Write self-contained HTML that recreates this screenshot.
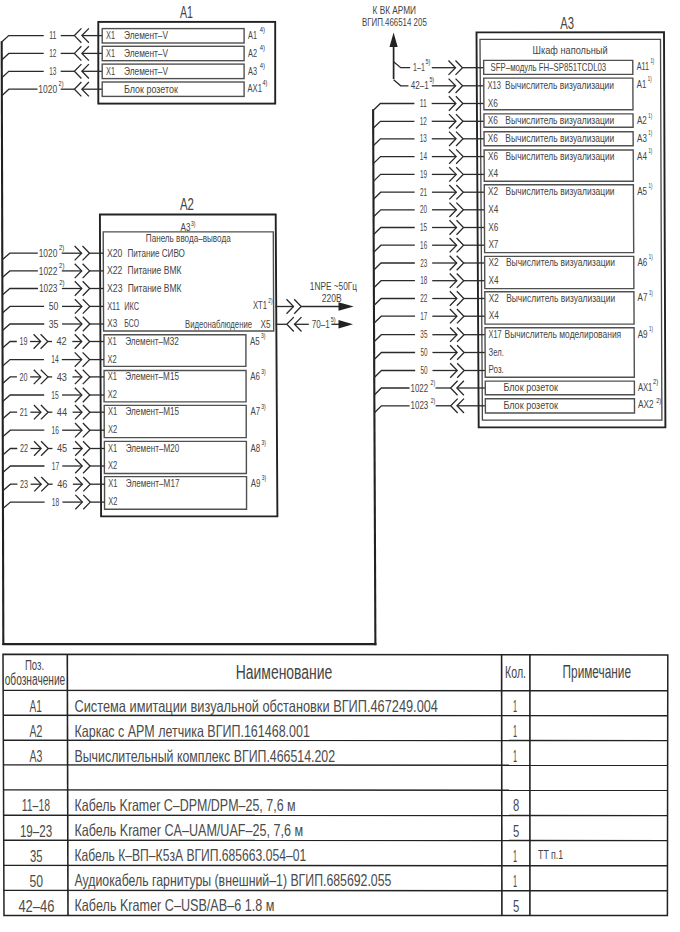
<!DOCTYPE html>
<html><head><meta charset="utf-8"><style>
html,body{margin:0;padding:0;background:#fff;}
body{width:680px;height:932px;overflow:hidden;}
svg{display:block;}
text{font-family:"Liberation Sans",sans-serif;}
</style></head><body>
<svg width="680" height="932" viewBox="0 0 680 932">
<rect x="0" y="0" width="680" height="932" fill="#fff"/>
<line x1="1.7" y1="41.3" x2="3.33" y2="645" stroke="#222222" stroke-width="2.1"/>
<line x1="2.33" y1="644.1" x2="376.4" y2="644.1" stroke="#222222" stroke-width="2.1"/>
<line x1="373.1" y1="109.3" x2="375.4" y2="645.3" stroke="#222222" stroke-width="2.1"/>
<text x="180" y="18.3" font-size="16.5" fill="#444444" textLength="12.98" lengthAdjust="spacingAndGlyphs">A1</text>
<rect x="98.3" y="21.9" width="176.9" height="81.7" fill="none" stroke="#222222" stroke-width="1.9"/>
<polyline points="1.7,42.1 8.7,35.6 43.7,35.6" fill="none" stroke="#2a2a2a" stroke-width="1.3" stroke-linejoin="miter"/>
<text x="49.2" y="39.2" font-size="11" fill="#444444" textLength="7.19" lengthAdjust="spacingAndGlyphs">11</text>
<line x1="60.7" y1="35.6" x2="74.4" y2="35.6" stroke="#2a2a2a" stroke-width="1.3"/>
<polyline points="81.4,28.4 74.4,35.6 81.4,42.8" fill="none" stroke="#2a2a2a" stroke-width="1.3" stroke-linejoin="miter"/>
<polyline points="88.9,28.4 81.9,35.6 88.9,42.8" fill="none" stroke="#2a2a2a" stroke-width="1.3" stroke-linejoin="miter"/>
<line x1="81.9" y1="35.6" x2="102.2" y2="35.6" stroke="#2a2a2a" stroke-width="1.3"/>
<rect x="102.2" y="28.6" width="141.9" height="14.4" fill="none" stroke="#505050" stroke-width="1.4"/>
<text x="106" y="39.2" font-size="11" fill="#444444" textLength="8.99" lengthAdjust="spacingAndGlyphs">X1</text>
<text x="124" y="39.2" font-size="11" fill="#444444" textLength="44.02" lengthAdjust="spacingAndGlyphs">Элемент–V</text>
<text x="248" y="38.8" font-size="11" fill="#444444" textLength="8.99" lengthAdjust="spacingAndGlyphs">A1</text>
<text x="259.8" y="32.02" font-size="8" fill="#2e2e2e" textLength="5.2" lengthAdjust="spacingAndGlyphs">4)</text>
<polyline points="1.75,59.9 8.75,53.4 43.7,53.4" fill="none" stroke="#2a2a2a" stroke-width="1.3" stroke-linejoin="miter"/>
<text x="49.2" y="57" font-size="11" fill="#444444" textLength="7.22" lengthAdjust="spacingAndGlyphs">12</text>
<line x1="60.7" y1="53.4" x2="74.4" y2="53.4" stroke="#2a2a2a" stroke-width="1.3"/>
<polyline points="81.4,46.2 74.4,53.4 81.4,60.6" fill="none" stroke="#2a2a2a" stroke-width="1.3" stroke-linejoin="miter"/>
<polyline points="88.9,46.2 81.9,53.4 88.9,60.6" fill="none" stroke="#2a2a2a" stroke-width="1.3" stroke-linejoin="miter"/>
<line x1="81.9" y1="53.4" x2="102.2" y2="53.4" stroke="#2a2a2a" stroke-width="1.3"/>
<rect x="102.2" y="46.3" width="141.9" height="14.4" fill="none" stroke="#505050" stroke-width="1.4"/>
<text x="106" y="57" font-size="11" fill="#444444" textLength="8.99" lengthAdjust="spacingAndGlyphs">X1</text>
<text x="124" y="57" font-size="11" fill="#444444" textLength="44.02" lengthAdjust="spacingAndGlyphs">Элемент–V</text>
<text x="248" y="56.6" font-size="11" fill="#444444" textLength="8.99" lengthAdjust="spacingAndGlyphs">A2</text>
<text x="259.8" y="49.82" font-size="8" fill="#2e2e2e" textLength="5.2" lengthAdjust="spacingAndGlyphs">4)</text>
<polyline points="1.8,77.8 8.8,71.3 43.7,71.3" fill="none" stroke="#2a2a2a" stroke-width="1.3" stroke-linejoin="miter"/>
<text x="49.2" y="74.9" font-size="11" fill="#444444" textLength="7.22" lengthAdjust="spacingAndGlyphs">13</text>
<line x1="60.7" y1="71.3" x2="74.4" y2="71.3" stroke="#2a2a2a" stroke-width="1.3"/>
<polyline points="81.4,64.1 74.4,71.3 81.4,78.5" fill="none" stroke="#2a2a2a" stroke-width="1.3" stroke-linejoin="miter"/>
<polyline points="88.9,64.1 81.9,71.3 88.9,78.5" fill="none" stroke="#2a2a2a" stroke-width="1.3" stroke-linejoin="miter"/>
<line x1="81.9" y1="71.3" x2="102.2" y2="71.3" stroke="#2a2a2a" stroke-width="1.3"/>
<rect x="102.2" y="64.1" width="141.9" height="14.5" fill="none" stroke="#505050" stroke-width="1.4"/>
<text x="106" y="74.9" font-size="11" fill="#444444" textLength="8.99" lengthAdjust="spacingAndGlyphs">X1</text>
<text x="124" y="74.9" font-size="11" fill="#444444" textLength="44.02" lengthAdjust="spacingAndGlyphs">Элемент–V</text>
<text x="248" y="74.5" font-size="11" fill="#444444" textLength="8.99" lengthAdjust="spacingAndGlyphs">A3</text>
<text x="259.8" y="67.72" font-size="8" fill="#2e2e2e" textLength="5.2" lengthAdjust="spacingAndGlyphs">4)</text>
<polyline points="1.84,95.7 8.84,89.2 37.5,89.2" fill="none" stroke="#2a2a2a" stroke-width="1.3" stroke-linejoin="miter"/>
<text x="38.3" y="92.8" font-size="11" fill="#444444" textLength="18.9" lengthAdjust="spacingAndGlyphs">1020</text>
<text x="58.6" y="85.92" font-size="8" fill="#2e2e2e" textLength="4.9" lengthAdjust="spacingAndGlyphs">2)</text>
<line x1="60.7" y1="89.2" x2="74.4" y2="89.2" stroke="#2a2a2a" stroke-width="1.3"/>
<polyline points="81.4,82 74.4,89.2 81.4,96.4" fill="none" stroke="#2a2a2a" stroke-width="1.3" stroke-linejoin="miter"/>
<polyline points="88.9,82 81.9,89.2 88.9,96.4" fill="none" stroke="#2a2a2a" stroke-width="1.3" stroke-linejoin="miter"/>
<line x1="81.9" y1="89.2" x2="102.2" y2="89.2" stroke="#2a2a2a" stroke-width="1.3"/>
<rect x="102.2" y="82" width="141.9" height="14.4" fill="none" stroke="#505050" stroke-width="1.4"/>
<text x="124" y="92.8" font-size="11" fill="#444444" textLength="53.94" lengthAdjust="spacingAndGlyphs">Блок розеток</text>
<text x="247.5" y="92.4" font-size="11" fill="#444444" textLength="14.5" lengthAdjust="spacingAndGlyphs">AX1</text>
<text x="262.5" y="85.22" font-size="8" fill="#2e2e2e" textLength="5" lengthAdjust="spacingAndGlyphs">4)</text>
<text x="180" y="210.3" font-size="16.5" fill="#444444" textLength="13.98" lengthAdjust="spacingAndGlyphs">A2</text>
<polygon points="99.9,214.5 275.7,214.5 277.4,516.4 101.1,516.3" fill="none" stroke="#222222" stroke-width="1.9" stroke-linejoin="miter"/>
<text x="180.6" y="231.3" font-size="10.5" fill="#444444" textLength="9.99" lengthAdjust="spacingAndGlyphs">A3</text>
<text x="191" y="226.32" font-size="8" fill="#2e2e2e" textLength="4.4" lengthAdjust="spacingAndGlyphs">3)</text>
<polygon points="103.2,231.9 273.3,231.9 273.7,331 103.6,331" fill="none" stroke="#505050" stroke-width="1.4" stroke-linejoin="miter"/>
<text x="145.8" y="241.8" font-size="10.3" fill="#444444" textLength="84.88" lengthAdjust="spacingAndGlyphs">Панель ввода–вывода</text>
<polyline points="2.29,259.7 9.79,253.2 37.82,253.2" fill="none" stroke="#2a2a2a" stroke-width="1.3" stroke-linejoin="miter"/>
<text x="38.72" y="256.8" font-size="11" fill="#444444" textLength="18.6" lengthAdjust="spacingAndGlyphs">1020</text>
<text x="59.02" y="250.12" font-size="8" fill="#2e2e2e" textLength="5.3" lengthAdjust="spacingAndGlyphs">2)</text>
<line x1="61.72" y1="253.2" x2="81.62" y2="253.2" stroke="#2a2a2a" stroke-width="1.3"/>
<polyline points="74.62,246 81.62,253.2 74.62,260.4" fill="none" stroke="#2a2a2a" stroke-width="1.3" stroke-linejoin="miter"/>
<polyline points="82.52,246 89.52,253.2 82.52,260.4" fill="none" stroke="#2a2a2a" stroke-width="1.3" stroke-linejoin="miter"/>
<line x1="89.52" y1="253.2" x2="103.32" y2="253.2" stroke="#2a2a2a" stroke-width="1.3"/>
<text x="106.92" y="256.6" font-size="11" fill="#444444" textLength="15.39" lengthAdjust="spacingAndGlyphs">X20</text>
<text x="127.52" y="256.6" font-size="11" fill="#444444" textLength="57.38" lengthAdjust="spacingAndGlyphs">Питание СИВО</text>
<polyline points="2.34,277.4 9.84,270.9 37.9,270.9" fill="none" stroke="#2a2a2a" stroke-width="1.3" stroke-linejoin="miter"/>
<text x="38.8" y="274.5" font-size="11" fill="#444444" textLength="18.6" lengthAdjust="spacingAndGlyphs">1022</text>
<text x="59.1" y="267.82" font-size="8" fill="#2e2e2e" textLength="5.3" lengthAdjust="spacingAndGlyphs">2)</text>
<line x1="61.8" y1="270.9" x2="81.7" y2="270.9" stroke="#2a2a2a" stroke-width="1.3"/>
<polyline points="74.7,263.7 81.7,270.9 74.7,278.1" fill="none" stroke="#2a2a2a" stroke-width="1.3" stroke-linejoin="miter"/>
<polyline points="82.6,263.7 89.6,270.9 82.6,278.1" fill="none" stroke="#2a2a2a" stroke-width="1.3" stroke-linejoin="miter"/>
<line x1="89.6" y1="270.9" x2="103.4" y2="270.9" stroke="#2a2a2a" stroke-width="1.3"/>
<text x="107" y="274.3" font-size="11" fill="#444444" textLength="15.39" lengthAdjust="spacingAndGlyphs">X22</text>
<text x="127.6" y="274.3" font-size="11" fill="#444444" textLength="53.88" lengthAdjust="spacingAndGlyphs">Питание ВМК</text>
<polyline points="2.38,295 9.88,288.5 37.98,288.5" fill="none" stroke="#2a2a2a" stroke-width="1.3" stroke-linejoin="miter"/>
<text x="38.88" y="292.1" font-size="11" fill="#444444" textLength="18.6" lengthAdjust="spacingAndGlyphs">1023</text>
<text x="59.18" y="285.42" font-size="8" fill="#2e2e2e" textLength="5.3" lengthAdjust="spacingAndGlyphs">2)</text>
<line x1="61.88" y1="288.5" x2="81.78" y2="288.5" stroke="#2a2a2a" stroke-width="1.3"/>
<polyline points="74.78,281.3 81.78,288.5 74.78,295.7" fill="none" stroke="#2a2a2a" stroke-width="1.3" stroke-linejoin="miter"/>
<polyline points="82.68,281.3 89.68,288.5 82.68,295.7" fill="none" stroke="#2a2a2a" stroke-width="1.3" stroke-linejoin="miter"/>
<line x1="89.68" y1="288.5" x2="103.48" y2="288.5" stroke="#2a2a2a" stroke-width="1.3"/>
<text x="107.08" y="291.9" font-size="11" fill="#444444" textLength="15.39" lengthAdjust="spacingAndGlyphs">X23</text>
<text x="127.68" y="291.9" font-size="11" fill="#444444" textLength="53.88" lengthAdjust="spacingAndGlyphs">Питание ВМК</text>
<polyline points="2.43,312.9 9.93,306.4 44.16,306.4" fill="none" stroke="#2a2a2a" stroke-width="1.3" stroke-linejoin="miter"/>
<text x="48.66" y="310" font-size="11" fill="#444444" textLength="9.72" lengthAdjust="spacingAndGlyphs">50</text>
<line x1="61.96" y1="306.4" x2="81.86" y2="306.4" stroke="#2a2a2a" stroke-width="1.3"/>
<polyline points="74.86,299.2 81.86,306.4 74.86,313.6" fill="none" stroke="#2a2a2a" stroke-width="1.3" stroke-linejoin="miter"/>
<polyline points="82.76,299.2 89.76,306.4 82.76,313.6" fill="none" stroke="#2a2a2a" stroke-width="1.3" stroke-linejoin="miter"/>
<line x1="89.76" y1="306.4" x2="103.56" y2="306.4" stroke="#2a2a2a" stroke-width="1.3"/>
<text x="107.16" y="309.8" font-size="11" fill="#444444" textLength="12.7" lengthAdjust="spacingAndGlyphs">X11</text>
<text x="124.26" y="309.8" font-size="11" fill="#444444" textLength="14.72" lengthAdjust="spacingAndGlyphs">ИКС</text>
<polyline points="2.48,330.5 9.98,324 44.24,324" fill="none" stroke="#2a2a2a" stroke-width="1.3" stroke-linejoin="miter"/>
<text x="48.74" y="327.6" font-size="11" fill="#444444" textLength="9.72" lengthAdjust="spacingAndGlyphs">35</text>
<line x1="62.04" y1="324" x2="81.94" y2="324" stroke="#2a2a2a" stroke-width="1.3"/>
<polyline points="74.94,316.8 81.94,324 74.94,331.2" fill="none" stroke="#2a2a2a" stroke-width="1.3" stroke-linejoin="miter"/>
<polyline points="82.84,316.8 89.84,324 82.84,331.2" fill="none" stroke="#2a2a2a" stroke-width="1.3" stroke-linejoin="miter"/>
<line x1="89.84" y1="324" x2="103.64" y2="324" stroke="#2a2a2a" stroke-width="1.3"/>
<text x="107.24" y="327.4" font-size="11" fill="#444444" textLength="9.99" lengthAdjust="spacingAndGlyphs">X3</text>
<text x="124.34" y="327.4" font-size="11" fill="#444444" textLength="14.69" lengthAdjust="spacingAndGlyphs">БСО</text>
<text x="253" y="309.4" font-size="11" fill="#444444" textLength="14.09" lengthAdjust="spacingAndGlyphs">XT1</text>
<text x="268.3" y="303.12" font-size="8" fill="#2e2e2e" textLength="4.2" lengthAdjust="spacingAndGlyphs">2)</text>
<text x="185" y="327.6" font-size="11" fill="#444444" textLength="67.01" lengthAdjust="spacingAndGlyphs">Видеонаблюдение</text>
<text x="260.6" y="327.6" font-size="11" fill="#444444" textLength="9.99" lengthAdjust="spacingAndGlyphs">X5</text>
<line x1="275.6" y1="306.5" x2="293.5" y2="306.5" stroke="#2a2a2a" stroke-width="1.3"/>
<polyline points="286.5,299.3 293.5,306.5 286.5,313.7" fill="none" stroke="#2a2a2a" stroke-width="1.3" stroke-linejoin="miter"/>
<polyline points="294.2,299.3 301.2,306.5 294.2,313.7" fill="none" stroke="#2a2a2a" stroke-width="1.3" stroke-linejoin="miter"/>
<line x1="301.2" y1="306.5" x2="340" y2="306.5" stroke="#2a2a2a" stroke-width="1.3"/>
<polygon points="338.5,302.3 353.7,306.5 338.5,310.7" fill="#222222"/>
<text x="309.8" y="290.3" font-size="11" fill="#444444" textLength="47.21" lengthAdjust="spacingAndGlyphs">1NPE ~50Гц</text>
<text x="321.8" y="301.8" font-size="11" fill="#444444" textLength="19.9" lengthAdjust="spacingAndGlyphs">220В</text>
<line x1="275.6" y1="324.3" x2="286.8" y2="324.3" stroke="#2a2a2a" stroke-width="1.3"/>
<polyline points="293.8,317.1 286.8,324.3 293.8,331.5" fill="none" stroke="#2a2a2a" stroke-width="1.3" stroke-linejoin="miter"/>
<polyline points="301.5,317.1 294.5,324.3 301.5,331.5" fill="none" stroke="#2a2a2a" stroke-width="1.3" stroke-linejoin="miter"/>
<line x1="294.5" y1="324.3" x2="308.8" y2="324.3" stroke="#2a2a2a" stroke-width="1.3"/>
<text x="311.7" y="327.6" font-size="11" fill="#444444" textLength="18.1" lengthAdjust="spacingAndGlyphs">70–1</text>
<text x="330.8" y="321.62" font-size="8" fill="#2e2e2e" textLength="4.8" lengthAdjust="spacingAndGlyphs">5)</text>
<line x1="331.4" y1="324.3" x2="340" y2="324.3" stroke="#2a2a2a" stroke-width="1.3"/>
<polygon points="338.5,320.1 353,324.3 338.5,328.5" fill="#222222"/>
<polygon points="103.9,334.7 245.9,334.7 245.9,366.4 103.9,366.4" fill="none" stroke="#505050" stroke-width="1.4" stroke-linejoin="miter"/>
<text x="107.6" y="344.6" font-size="11" fill="#444444" textLength="9.19" lengthAdjust="spacingAndGlyphs">X1</text>
<text x="125.2" y="344.6" font-size="11" fill="#444444" textLength="53.61" lengthAdjust="spacingAndGlyphs">Элемент–M32</text>
<text x="107.6" y="362.6" font-size="11" fill="#444444" textLength="9.19" lengthAdjust="spacingAndGlyphs">X2</text>
<text x="250.1" y="344.5" font-size="11" fill="#444444" textLength="9.69" lengthAdjust="spacingAndGlyphs">A5</text>
<text x="261" y="338.32" font-size="8" fill="#2e2e2e" textLength="4.4" lengthAdjust="spacingAndGlyphs">3)</text>
<polyline points="2.53,348 10.03,341.5 16.8,341.5" fill="none" stroke="#2a2a2a" stroke-width="1.3" stroke-linejoin="miter"/>
<text x="19.4" y="345.1" font-size="11" fill="#444444" textLength="8.02" lengthAdjust="spacingAndGlyphs">19</text>
<line x1="30" y1="341.5" x2="40.6" y2="341.5" stroke="#2a2a2a" stroke-width="1.3"/>
<polyline points="33.6,334.3 40.6,341.5 33.6,348.7" fill="none" stroke="#2a2a2a" stroke-width="1.3" stroke-linejoin="miter"/>
<polyline points="40.6,334.3 47.8,341.5 40.6,348.7" fill="none" stroke="#2a2a2a" stroke-width="1.3" stroke-linejoin="miter"/>
<line x1="47.8" y1="341.5" x2="52" y2="341.5" stroke="#2a2a2a" stroke-width="1.3"/>
<text x="56.5" y="345.1" font-size="11" fill="#444444" textLength="10.22" lengthAdjust="spacingAndGlyphs">42</text>
<line x1="72.3" y1="341.5" x2="81.7" y2="341.5" stroke="#2a2a2a" stroke-width="1.3"/>
<polyline points="74.7,334.3 81.7,341.5 74.7,348.7" fill="none" stroke="#2a2a2a" stroke-width="1.3" stroke-linejoin="miter"/>
<polyline points="82.6,334.3 89.6,341.5 82.6,348.7" fill="none" stroke="#2a2a2a" stroke-width="1.3" stroke-linejoin="miter"/>
<line x1="89.6" y1="341.5" x2="103.9" y2="341.5" stroke="#2a2a2a" stroke-width="1.3"/>
<polyline points="2.58,366.1 10.08,359.6 44,359.6" fill="none" stroke="#2a2a2a" stroke-width="1.3" stroke-linejoin="miter"/>
<text x="51.2" y="363.2" font-size="11" fill="#444444" textLength="7.42" lengthAdjust="spacingAndGlyphs">14</text>
<line x1="61.8" y1="359.6" x2="81.7" y2="359.6" stroke="#2a2a2a" stroke-width="1.3"/>
<polyline points="74.7,352.4 81.7,359.6 74.7,366.8" fill="none" stroke="#2a2a2a" stroke-width="1.3" stroke-linejoin="miter"/>
<polyline points="82.6,352.4 89.6,359.6 82.6,366.8" fill="none" stroke="#2a2a2a" stroke-width="1.3" stroke-linejoin="miter"/>
<line x1="89.6" y1="359.6" x2="103.9" y2="359.6" stroke="#2a2a2a" stroke-width="1.3"/>
<polygon points="104.06,370.5 246.06,370.5 246.06,401.9 104.06,401.9" fill="none" stroke="#505050" stroke-width="1.4" stroke-linejoin="miter"/>
<text x="107.76" y="380" font-size="11" fill="#444444" textLength="9.19" lengthAdjust="spacingAndGlyphs">X1</text>
<text x="125.36" y="380" font-size="11" fill="#444444" textLength="53.61" lengthAdjust="spacingAndGlyphs">Элемент–M15</text>
<text x="107.76" y="398" font-size="11" fill="#444444" textLength="9.19" lengthAdjust="spacingAndGlyphs">X2</text>
<text x="250.26" y="379.9" font-size="11" fill="#444444" textLength="9.69" lengthAdjust="spacingAndGlyphs">A6</text>
<text x="261.16" y="374.12" font-size="8" fill="#2e2e2e" textLength="4.4" lengthAdjust="spacingAndGlyphs">3)</text>
<polyline points="2.62,383.4 10.12,376.9 16.96,376.9" fill="none" stroke="#2a2a2a" stroke-width="1.3" stroke-linejoin="miter"/>
<text x="19.56" y="380.5" font-size="11" fill="#444444" textLength="8.02" lengthAdjust="spacingAndGlyphs">20</text>
<line x1="30.16" y1="376.9" x2="40.76" y2="376.9" stroke="#2a2a2a" stroke-width="1.3"/>
<polyline points="33.76,369.7 40.76,376.9 33.76,384.1" fill="none" stroke="#2a2a2a" stroke-width="1.3" stroke-linejoin="miter"/>
<polyline points="40.76,369.7 47.96,376.9 40.76,384.1" fill="none" stroke="#2a2a2a" stroke-width="1.3" stroke-linejoin="miter"/>
<line x1="47.96" y1="376.9" x2="52.16" y2="376.9" stroke="#2a2a2a" stroke-width="1.3"/>
<text x="56.66" y="380.5" font-size="11" fill="#444444" textLength="10.22" lengthAdjust="spacingAndGlyphs">43</text>
<line x1="72.46" y1="376.9" x2="81.86" y2="376.9" stroke="#2a2a2a" stroke-width="1.3"/>
<polyline points="74.86,369.7 81.86,376.9 74.86,384.1" fill="none" stroke="#2a2a2a" stroke-width="1.3" stroke-linejoin="miter"/>
<polyline points="82.76,369.7 89.76,376.9 82.76,384.1" fill="none" stroke="#2a2a2a" stroke-width="1.3" stroke-linejoin="miter"/>
<line x1="89.76" y1="376.9" x2="104.06" y2="376.9" stroke="#2a2a2a" stroke-width="1.3"/>
<polyline points="2.67,401.5 10.17,395 44.16,395" fill="none" stroke="#2a2a2a" stroke-width="1.3" stroke-linejoin="miter"/>
<text x="51.36" y="398.6" font-size="11" fill="#444444" textLength="7.42" lengthAdjust="spacingAndGlyphs">15</text>
<line x1="61.96" y1="395" x2="81.86" y2="395" stroke="#2a2a2a" stroke-width="1.3"/>
<polyline points="74.86,387.8 81.86,395 74.86,402.2" fill="none" stroke="#2a2a2a" stroke-width="1.3" stroke-linejoin="miter"/>
<polyline points="82.76,387.8 89.76,395 82.76,402.2" fill="none" stroke="#2a2a2a" stroke-width="1.3" stroke-linejoin="miter"/>
<line x1="89.76" y1="395" x2="104.06" y2="395" stroke="#2a2a2a" stroke-width="1.3"/>
<polygon points="104.22,405.4 246.22,405.4 246.22,437.6 104.22,437.6" fill="none" stroke="#505050" stroke-width="1.4" stroke-linejoin="miter"/>
<text x="107.92" y="415.3" font-size="11" fill="#444444" textLength="9.19" lengthAdjust="spacingAndGlyphs">X1</text>
<text x="125.52" y="415.3" font-size="11" fill="#444444" textLength="53.61" lengthAdjust="spacingAndGlyphs">Элемент–M15</text>
<text x="107.92" y="433.2" font-size="11" fill="#444444" textLength="9.19" lengthAdjust="spacingAndGlyphs">X2</text>
<text x="250.42" y="415.2" font-size="11" fill="#444444" textLength="9.69" lengthAdjust="spacingAndGlyphs">A7</text>
<text x="261.32" y="409.02" font-size="8" fill="#2e2e2e" textLength="4.4" lengthAdjust="spacingAndGlyphs">3)</text>
<polyline points="2.72,418.7 10.22,412.2 17.12,412.2" fill="none" stroke="#2a2a2a" stroke-width="1.3" stroke-linejoin="miter"/>
<text x="19.72" y="415.8" font-size="11" fill="#444444" textLength="8.02" lengthAdjust="spacingAndGlyphs">21</text>
<line x1="30.32" y1="412.2" x2="40.92" y2="412.2" stroke="#2a2a2a" stroke-width="1.3"/>
<polyline points="33.92,405 40.92,412.2 33.92,419.4" fill="none" stroke="#2a2a2a" stroke-width="1.3" stroke-linejoin="miter"/>
<polyline points="40.92,405 48.12,412.2 40.92,419.4" fill="none" stroke="#2a2a2a" stroke-width="1.3" stroke-linejoin="miter"/>
<line x1="48.12" y1="412.2" x2="52.32" y2="412.2" stroke="#2a2a2a" stroke-width="1.3"/>
<text x="56.82" y="415.8" font-size="11" fill="#444444" textLength="10.22" lengthAdjust="spacingAndGlyphs">44</text>
<line x1="72.62" y1="412.2" x2="82.02" y2="412.2" stroke="#2a2a2a" stroke-width="1.3"/>
<polyline points="75.02,405 82.02,412.2 75.02,419.4" fill="none" stroke="#2a2a2a" stroke-width="1.3" stroke-linejoin="miter"/>
<polyline points="82.92,405 89.92,412.2 82.92,419.4" fill="none" stroke="#2a2a2a" stroke-width="1.3" stroke-linejoin="miter"/>
<line x1="89.92" y1="412.2" x2="104.22" y2="412.2" stroke="#2a2a2a" stroke-width="1.3"/>
<polyline points="2.77,436.7 10.27,430.2 44.32,430.2" fill="none" stroke="#2a2a2a" stroke-width="1.3" stroke-linejoin="miter"/>
<text x="51.52" y="433.8" font-size="11" fill="#444444" textLength="7.42" lengthAdjust="spacingAndGlyphs">16</text>
<line x1="62.12" y1="430.2" x2="82.02" y2="430.2" stroke="#2a2a2a" stroke-width="1.3"/>
<polyline points="75.02,423 82.02,430.2 75.02,437.4" fill="none" stroke="#2a2a2a" stroke-width="1.3" stroke-linejoin="miter"/>
<polyline points="82.92,423 89.92,430.2 82.92,437.4" fill="none" stroke="#2a2a2a" stroke-width="1.3" stroke-linejoin="miter"/>
<line x1="89.92" y1="430.2" x2="104.22" y2="430.2" stroke="#2a2a2a" stroke-width="1.3"/>
<polygon points="104.38,441.4 246.38,441.4 246.38,473.5 104.38,473.5" fill="none" stroke="#505050" stroke-width="1.4" stroke-linejoin="miter"/>
<text x="108.08" y="451.6" font-size="11" fill="#444444" textLength="9.19" lengthAdjust="spacingAndGlyphs">X1</text>
<text x="125.68" y="451.6" font-size="11" fill="#444444" textLength="53.61" lengthAdjust="spacingAndGlyphs">Элемент–M20</text>
<text x="108.08" y="469" font-size="11" fill="#444444" textLength="9.19" lengthAdjust="spacingAndGlyphs">X2</text>
<text x="250.58" y="451.5" font-size="11" fill="#444444" textLength="9.69" lengthAdjust="spacingAndGlyphs">A8</text>
<text x="261.48" y="445.02" font-size="8" fill="#2e2e2e" textLength="4.4" lengthAdjust="spacingAndGlyphs">3)</text>
<polyline points="2.82,455 10.32,448.5 17.28,448.5" fill="none" stroke="#2a2a2a" stroke-width="1.3" stroke-linejoin="miter"/>
<text x="19.88" y="452.1" font-size="11" fill="#444444" textLength="8.02" lengthAdjust="spacingAndGlyphs">22</text>
<line x1="30.48" y1="448.5" x2="41.08" y2="448.5" stroke="#2a2a2a" stroke-width="1.3"/>
<polyline points="34.08,441.3 41.08,448.5 34.08,455.7" fill="none" stroke="#2a2a2a" stroke-width="1.3" stroke-linejoin="miter"/>
<polyline points="41.08,441.3 48.28,448.5 41.08,455.7" fill="none" stroke="#2a2a2a" stroke-width="1.3" stroke-linejoin="miter"/>
<line x1="48.28" y1="448.5" x2="52.48" y2="448.5" stroke="#2a2a2a" stroke-width="1.3"/>
<text x="56.98" y="452.1" font-size="11" fill="#444444" textLength="10.22" lengthAdjust="spacingAndGlyphs">45</text>
<line x1="72.78" y1="448.5" x2="82.18" y2="448.5" stroke="#2a2a2a" stroke-width="1.3"/>
<polyline points="75.18,441.3 82.18,448.5 75.18,455.7" fill="none" stroke="#2a2a2a" stroke-width="1.3" stroke-linejoin="miter"/>
<polyline points="83.08,441.3 90.08,448.5 83.08,455.7" fill="none" stroke="#2a2a2a" stroke-width="1.3" stroke-linejoin="miter"/>
<line x1="90.08" y1="448.5" x2="104.38" y2="448.5" stroke="#2a2a2a" stroke-width="1.3"/>
<polyline points="2.86,472.5 10.36,466 44.48,466" fill="none" stroke="#2a2a2a" stroke-width="1.3" stroke-linejoin="miter"/>
<text x="51.68" y="469.6" font-size="11" fill="#444444" textLength="7.42" lengthAdjust="spacingAndGlyphs">17</text>
<line x1="62.28" y1="466" x2="82.18" y2="466" stroke="#2a2a2a" stroke-width="1.3"/>
<polyline points="75.18,458.8 82.18,466 75.18,473.2" fill="none" stroke="#2a2a2a" stroke-width="1.3" stroke-linejoin="miter"/>
<polyline points="83.08,458.8 90.08,466 83.08,473.2" fill="none" stroke="#2a2a2a" stroke-width="1.3" stroke-linejoin="miter"/>
<line x1="90.08" y1="466" x2="104.38" y2="466" stroke="#2a2a2a" stroke-width="1.3"/>
<polygon points="104.54,476.6 246.54,476.6 246.54,509.2 104.54,509.2" fill="none" stroke="#505050" stroke-width="1.4" stroke-linejoin="miter"/>
<text x="108.24" y="487.3" font-size="11" fill="#444444" textLength="9.19" lengthAdjust="spacingAndGlyphs">X1</text>
<text x="125.84" y="487.3" font-size="11" fill="#444444" textLength="53.61" lengthAdjust="spacingAndGlyphs">Элемент–M17</text>
<text x="108.24" y="505.1" font-size="11" fill="#444444" textLength="9.19" lengthAdjust="spacingAndGlyphs">X2</text>
<text x="250.74" y="487.2" font-size="11" fill="#444444" textLength="9.69" lengthAdjust="spacingAndGlyphs">A9</text>
<text x="261.64" y="480.22" font-size="8" fill="#2e2e2e" textLength="4.4" lengthAdjust="spacingAndGlyphs">3)</text>
<polyline points="2.91,490.7 10.41,484.2 17.44,484.2" fill="none" stroke="#2a2a2a" stroke-width="1.3" stroke-linejoin="miter"/>
<text x="20.04" y="487.8" font-size="11" fill="#444444" textLength="8.02" lengthAdjust="spacingAndGlyphs">23</text>
<line x1="30.64" y1="484.2" x2="41.24" y2="484.2" stroke="#2a2a2a" stroke-width="1.3"/>
<polyline points="34.24,477 41.24,484.2 34.24,491.4" fill="none" stroke="#2a2a2a" stroke-width="1.3" stroke-linejoin="miter"/>
<polyline points="41.24,477 48.44,484.2 41.24,491.4" fill="none" stroke="#2a2a2a" stroke-width="1.3" stroke-linejoin="miter"/>
<line x1="48.44" y1="484.2" x2="52.64" y2="484.2" stroke="#2a2a2a" stroke-width="1.3"/>
<text x="57.14" y="487.8" font-size="11" fill="#444444" textLength="10.22" lengthAdjust="spacingAndGlyphs">46</text>
<line x1="72.94" y1="484.2" x2="82.34" y2="484.2" stroke="#2a2a2a" stroke-width="1.3"/>
<polyline points="75.34,477 82.34,484.2 75.34,491.4" fill="none" stroke="#2a2a2a" stroke-width="1.3" stroke-linejoin="miter"/>
<polyline points="83.24,477 90.24,484.2 83.24,491.4" fill="none" stroke="#2a2a2a" stroke-width="1.3" stroke-linejoin="miter"/>
<line x1="90.24" y1="484.2" x2="104.54" y2="484.2" stroke="#2a2a2a" stroke-width="1.3"/>
<polyline points="2.96,508.6 10.46,502.1 44.64,502.1" fill="none" stroke="#2a2a2a" stroke-width="1.3" stroke-linejoin="miter"/>
<text x="51.84" y="505.7" font-size="11" fill="#444444" textLength="7.42" lengthAdjust="spacingAndGlyphs">18</text>
<line x1="62.44" y1="502.1" x2="82.34" y2="502.1" stroke="#2a2a2a" stroke-width="1.3"/>
<polyline points="75.34,494.9 82.34,502.1 75.34,509.3" fill="none" stroke="#2a2a2a" stroke-width="1.3" stroke-linejoin="miter"/>
<polyline points="83.24,494.9 90.24,502.1 83.24,509.3" fill="none" stroke="#2a2a2a" stroke-width="1.3" stroke-linejoin="miter"/>
<line x1="90.24" y1="502.1" x2="104.54" y2="502.1" stroke="#2a2a2a" stroke-width="1.3"/>
<text x="372.6" y="13.8" font-size="10.3" fill="#444444" textLength="43.42" lengthAdjust="spacingAndGlyphs">К ВК АРМИ</text>
<text x="361.9" y="26.4" font-size="10.3" fill="#444444" textLength="64.92" lengthAdjust="spacingAndGlyphs">ВГИП.466514 205</text>
<polygon points="393.6,32.5 397.7,47 389.5,47" fill="#222222"/>
<line x1="393.6" y1="45" x2="393.6" y2="79" stroke="#222222" stroke-width="1.7"/>
<text x="560.2" y="29" font-size="16.5" fill="#444444" textLength="13.78" lengthAdjust="spacingAndGlyphs">A3</text>
<polygon points="476.5,32.4 664,32.3 665.4,427.2 478.7,427.4" fill="none" stroke="#222222" stroke-width="1.9" stroke-linejoin="miter"/>
<polygon points="480,39.3 660.5,39.3 661.9,420 482.4,420.1" fill="none" stroke="#484848" stroke-width="1.3" stroke-linejoin="miter"/>
<text x="532.6" y="54.4" font-size="10.8" fill="#444444" textLength="75.01" lengthAdjust="spacingAndGlyphs">Шкаф напольный</text>
<polyline points="393.6,61.7 400.7,67.7 410.2,67.7" fill="none" stroke="#2a2a2a" stroke-width="1.3" stroke-linejoin="miter"/>
<text x="413.1" y="70.7" font-size="11" fill="#444444" textLength="11.79" lengthAdjust="spacingAndGlyphs">1–1</text>
<text x="425.5" y="63.82" font-size="8" fill="#2e2e2e" textLength="4.8" lengthAdjust="spacingAndGlyphs">5)</text>
<line x1="431.8" y1="67.7" x2="455.49" y2="67.7" stroke="#2a2a2a" stroke-width="1.3"/>
<polyline points="448.49,60.5 455.49,67.7 448.49,74.9" fill="none" stroke="#2a2a2a" stroke-width="1.3" stroke-linejoin="miter"/>
<polyline points="455.49,60.5 462.49,67.7 455.49,74.9" fill="none" stroke="#2a2a2a" stroke-width="1.3" stroke-linejoin="miter"/>
<line x1="462.49" y1="67.7" x2="483.69" y2="67.7" stroke="#2a2a2a" stroke-width="1.3"/>
<polyline points="393.6,79.8 400.7,85.8 408.5,85.8" fill="none" stroke="#2a2a2a" stroke-width="1.3" stroke-linejoin="miter"/>
<text x="410.8" y="89.2" font-size="11" fill="#444444" textLength="18" lengthAdjust="spacingAndGlyphs">42–1</text>
<text x="429.4" y="81.52" font-size="8" fill="#2e2e2e" textLength="4.7" lengthAdjust="spacingAndGlyphs">5)</text>
<line x1="431.8" y1="85.8" x2="455.58" y2="85.8" stroke="#2a2a2a" stroke-width="1.3"/>
<polyline points="448.58,78.6 455.58,85.8 448.58,93" fill="none" stroke="#2a2a2a" stroke-width="1.3" stroke-linejoin="miter"/>
<polyline points="455.58,78.6 462.58,85.8 455.58,93" fill="none" stroke="#2a2a2a" stroke-width="1.3" stroke-linejoin="miter"/>
<line x1="462.58" y1="85.8" x2="483.78" y2="85.8" stroke="#2a2a2a" stroke-width="1.3"/>
<polyline points="373.1,110.5 380.3,103.5 414.38,103.5" fill="none" stroke="#2a2a2a" stroke-width="1.3" stroke-linejoin="miter"/>
<text x="419.68" y="107.1" font-size="11" fill="#444444" textLength="7.09" lengthAdjust="spacingAndGlyphs">11</text>
<line x1="431.68" y1="103.5" x2="455.87" y2="103.5" stroke="#2a2a2a" stroke-width="1.3"/>
<polyline points="448.87,96.3 455.87,103.5 448.87,110.7" fill="none" stroke="#2a2a2a" stroke-width="1.3" stroke-linejoin="miter"/>
<polyline points="455.87,96.3 462.87,103.5 455.87,110.7" fill="none" stroke="#2a2a2a" stroke-width="1.3" stroke-linejoin="miter"/>
<line x1="462.87" y1="103.5" x2="483.87" y2="103.5" stroke="#2a2a2a" stroke-width="1.3"/>
<polyline points="373.18,128.3 380.38,121.3 414.43,121.3" fill="none" stroke="#2a2a2a" stroke-width="1.3" stroke-linejoin="miter"/>
<text x="419.73" y="124.9" font-size="11" fill="#444444" textLength="7.11" lengthAdjust="spacingAndGlyphs">12</text>
<line x1="431.73" y1="121.3" x2="455.96" y2="121.3" stroke="#2a2a2a" stroke-width="1.3"/>
<polyline points="448.96,114.1 455.96,121.3 448.96,128.5" fill="none" stroke="#2a2a2a" stroke-width="1.3" stroke-linejoin="miter"/>
<polyline points="455.96,114.1 462.96,121.3 455.96,128.5" fill="none" stroke="#2a2a2a" stroke-width="1.3" stroke-linejoin="miter"/>
<line x1="462.96" y1="121.3" x2="483.96" y2="121.3" stroke="#2a2a2a" stroke-width="1.3"/>
<polyline points="373.25,145.8 380.45,138.8 414.49,138.8" fill="none" stroke="#2a2a2a" stroke-width="1.3" stroke-linejoin="miter"/>
<text x="419.79" y="142.4" font-size="11" fill="#444444" textLength="7.11" lengthAdjust="spacingAndGlyphs">13</text>
<line x1="431.79" y1="138.8" x2="456.04" y2="138.8" stroke="#2a2a2a" stroke-width="1.3"/>
<polyline points="449.04,131.6 456.04,138.8 449.04,146" fill="none" stroke="#2a2a2a" stroke-width="1.3" stroke-linejoin="miter"/>
<polyline points="456.04,131.6 463.04,138.8 456.04,146" fill="none" stroke="#2a2a2a" stroke-width="1.3" stroke-linejoin="miter"/>
<line x1="463.04" y1="138.8" x2="484.04" y2="138.8" stroke="#2a2a2a" stroke-width="1.3"/>
<polyline points="373.33,163.6 380.53,156.6 414.54,156.6" fill="none" stroke="#2a2a2a" stroke-width="1.3" stroke-linejoin="miter"/>
<text x="419.84" y="160.2" font-size="11" fill="#444444" textLength="7.11" lengthAdjust="spacingAndGlyphs">14</text>
<line x1="431.84" y1="156.6" x2="456.13" y2="156.6" stroke="#2a2a2a" stroke-width="1.3"/>
<polyline points="449.13,149.4 456.13,156.6 449.13,163.8" fill="none" stroke="#2a2a2a" stroke-width="1.3" stroke-linejoin="miter"/>
<polyline points="456.13,149.4 463.13,156.6 456.13,163.8" fill="none" stroke="#2a2a2a" stroke-width="1.3" stroke-linejoin="miter"/>
<line x1="463.13" y1="156.6" x2="484.13" y2="156.6" stroke="#2a2a2a" stroke-width="1.3"/>
<polyline points="373.41,181.4 380.61,174.4 414.59,174.4" fill="none" stroke="#2a2a2a" stroke-width="1.3" stroke-linejoin="miter"/>
<text x="419.89" y="178" font-size="11" fill="#444444" textLength="7.11" lengthAdjust="spacingAndGlyphs">19</text>
<line x1="431.89" y1="174.4" x2="456.22" y2="174.4" stroke="#2a2a2a" stroke-width="1.3"/>
<polyline points="449.22,167.2 456.22,174.4 449.22,181.6" fill="none" stroke="#2a2a2a" stroke-width="1.3" stroke-linejoin="miter"/>
<polyline points="456.22,167.2 463.22,174.4 456.22,181.6" fill="none" stroke="#2a2a2a" stroke-width="1.3" stroke-linejoin="miter"/>
<line x1="463.22" y1="174.4" x2="484.22" y2="174.4" stroke="#2a2a2a" stroke-width="1.3"/>
<polyline points="373.48,199.2 380.68,192.2 414.65,192.2" fill="none" stroke="#2a2a2a" stroke-width="1.3" stroke-linejoin="miter"/>
<text x="419.95" y="195.8" font-size="11" fill="#444444" textLength="7.11" lengthAdjust="spacingAndGlyphs">21</text>
<line x1="431.95" y1="192.2" x2="456.31" y2="192.2" stroke="#2a2a2a" stroke-width="1.3"/>
<polyline points="449.31,185 456.31,192.2 449.31,199.4" fill="none" stroke="#2a2a2a" stroke-width="1.3" stroke-linejoin="miter"/>
<polyline points="456.31,185 463.31,192.2 456.31,199.4" fill="none" stroke="#2a2a2a" stroke-width="1.3" stroke-linejoin="miter"/>
<line x1="463.31" y1="192.2" x2="484.31" y2="192.2" stroke="#2a2a2a" stroke-width="1.3"/>
<polyline points="373.56,216.8 380.76,209.8 414.7,209.8" fill="none" stroke="#2a2a2a" stroke-width="1.3" stroke-linejoin="miter"/>
<text x="420" y="213.4" font-size="11" fill="#444444" textLength="7.11" lengthAdjust="spacingAndGlyphs">20</text>
<line x1="432" y1="209.8" x2="456.4" y2="209.8" stroke="#2a2a2a" stroke-width="1.3"/>
<polyline points="449.4,202.6 456.4,209.8 449.4,217" fill="none" stroke="#2a2a2a" stroke-width="1.3" stroke-linejoin="miter"/>
<polyline points="456.4,202.6 463.4,209.8 456.4,217" fill="none" stroke="#2a2a2a" stroke-width="1.3" stroke-linejoin="miter"/>
<line x1="463.4" y1="209.8" x2="484.4" y2="209.8" stroke="#2a2a2a" stroke-width="1.3"/>
<polyline points="373.64,234.5 380.84,227.5 414.75,227.5" fill="none" stroke="#2a2a2a" stroke-width="1.3" stroke-linejoin="miter"/>
<text x="420.05" y="231.1" font-size="11" fill="#444444" textLength="7.11" lengthAdjust="spacingAndGlyphs">15</text>
<line x1="432.05" y1="227.5" x2="456.49" y2="227.5" stroke="#2a2a2a" stroke-width="1.3"/>
<polyline points="449.49,220.3 456.49,227.5 449.49,234.7" fill="none" stroke="#2a2a2a" stroke-width="1.3" stroke-linejoin="miter"/>
<polyline points="456.49,220.3 463.49,227.5 456.49,234.7" fill="none" stroke="#2a2a2a" stroke-width="1.3" stroke-linejoin="miter"/>
<line x1="463.49" y1="227.5" x2="484.49" y2="227.5" stroke="#2a2a2a" stroke-width="1.3"/>
<polyline points="373.71,252.2 380.91,245.2 414.81,245.2" fill="none" stroke="#2a2a2a" stroke-width="1.3" stroke-linejoin="miter"/>
<text x="420.11" y="248.8" font-size="11" fill="#444444" textLength="7.11" lengthAdjust="spacingAndGlyphs">16</text>
<line x1="432.11" y1="245.2" x2="456.58" y2="245.2" stroke="#2a2a2a" stroke-width="1.3"/>
<polyline points="449.58,238 456.58,245.2 449.58,252.4" fill="none" stroke="#2a2a2a" stroke-width="1.3" stroke-linejoin="miter"/>
<polyline points="456.58,238 463.58,245.2 456.58,252.4" fill="none" stroke="#2a2a2a" stroke-width="1.3" stroke-linejoin="miter"/>
<line x1="463.58" y1="245.2" x2="484.58" y2="245.2" stroke="#2a2a2a" stroke-width="1.3"/>
<polyline points="373.79,270 380.99,263 414.86,263" fill="none" stroke="#2a2a2a" stroke-width="1.3" stroke-linejoin="miter"/>
<text x="420.16" y="266.6" font-size="11" fill="#444444" textLength="7.11" lengthAdjust="spacingAndGlyphs">23</text>
<line x1="432.16" y1="263" x2="456.66" y2="263" stroke="#2a2a2a" stroke-width="1.3"/>
<polyline points="449.66,255.8 456.66,263 449.66,270.2" fill="none" stroke="#2a2a2a" stroke-width="1.3" stroke-linejoin="miter"/>
<polyline points="456.66,255.8 463.66,263 456.66,270.2" fill="none" stroke="#2a2a2a" stroke-width="1.3" stroke-linejoin="miter"/>
<line x1="463.66" y1="263" x2="484.66" y2="263" stroke="#2a2a2a" stroke-width="1.3"/>
<polyline points="373.86,287.7 381.06,280.7 414.91,280.7" fill="none" stroke="#2a2a2a" stroke-width="1.3" stroke-linejoin="miter"/>
<text x="420.21" y="284.3" font-size="11" fill="#444444" textLength="7.11" lengthAdjust="spacingAndGlyphs">18</text>
<line x1="432.21" y1="280.7" x2="456.75" y2="280.7" stroke="#2a2a2a" stroke-width="1.3"/>
<polyline points="449.75,273.5 456.75,280.7 449.75,287.9" fill="none" stroke="#2a2a2a" stroke-width="1.3" stroke-linejoin="miter"/>
<polyline points="456.75,273.5 463.75,280.7 456.75,287.9" fill="none" stroke="#2a2a2a" stroke-width="1.3" stroke-linejoin="miter"/>
<line x1="463.75" y1="280.7" x2="484.75" y2="280.7" stroke="#2a2a2a" stroke-width="1.3"/>
<polyline points="373.94,305.5 381.14,298.5 414.97,298.5" fill="none" stroke="#2a2a2a" stroke-width="1.3" stroke-linejoin="miter"/>
<text x="420.27" y="302.1" font-size="11" fill="#444444" textLength="7.11" lengthAdjust="spacingAndGlyphs">22</text>
<line x1="432.27" y1="298.5" x2="456.84" y2="298.5" stroke="#2a2a2a" stroke-width="1.3"/>
<polyline points="449.84,291.3 456.84,298.5 449.84,305.7" fill="none" stroke="#2a2a2a" stroke-width="1.3" stroke-linejoin="miter"/>
<polyline points="456.84,291.3 463.84,298.5 456.84,305.7" fill="none" stroke="#2a2a2a" stroke-width="1.3" stroke-linejoin="miter"/>
<line x1="463.84" y1="298.5" x2="484.84" y2="298.5" stroke="#2a2a2a" stroke-width="1.3"/>
<polyline points="374.02,323.2 381.22,316.2 415.02,316.2" fill="none" stroke="#2a2a2a" stroke-width="1.3" stroke-linejoin="miter"/>
<text x="420.32" y="319.8" font-size="11" fill="#444444" textLength="7.11" lengthAdjust="spacingAndGlyphs">17</text>
<line x1="432.32" y1="316.2" x2="456.93" y2="316.2" stroke="#2a2a2a" stroke-width="1.3"/>
<polyline points="449.93,309 456.93,316.2 449.93,323.4" fill="none" stroke="#2a2a2a" stroke-width="1.3" stroke-linejoin="miter"/>
<polyline points="456.93,309 463.93,316.2 456.93,323.4" fill="none" stroke="#2a2a2a" stroke-width="1.3" stroke-linejoin="miter"/>
<line x1="463.93" y1="316.2" x2="484.93" y2="316.2" stroke="#2a2a2a" stroke-width="1.3"/>
<polyline points="374.1,341.7 381.3,334.7 415.07,334.7" fill="none" stroke="#2a2a2a" stroke-width="1.3" stroke-linejoin="miter"/>
<text x="420.37" y="338.3" font-size="11" fill="#444444" textLength="7.11" lengthAdjust="spacingAndGlyphs">35</text>
<line x1="432.37" y1="334.7" x2="457.02" y2="334.7" stroke="#2a2a2a" stroke-width="1.3"/>
<polyline points="450.02,327.5 457.02,334.7 450.02,341.9" fill="none" stroke="#2a2a2a" stroke-width="1.3" stroke-linejoin="miter"/>
<polyline points="457.02,327.5 464.02,334.7 457.02,341.9" fill="none" stroke="#2a2a2a" stroke-width="1.3" stroke-linejoin="miter"/>
<line x1="464.02" y1="334.7" x2="485.02" y2="334.7" stroke="#2a2a2a" stroke-width="1.3"/>
<polyline points="374.17,359.5 381.37,352.5 415.13,352.5" fill="none" stroke="#2a2a2a" stroke-width="1.3" stroke-linejoin="miter"/>
<text x="420.43" y="356.1" font-size="11" fill="#444444" textLength="7.11" lengthAdjust="spacingAndGlyphs">50</text>
<line x1="432.43" y1="352.5" x2="457.11" y2="352.5" stroke="#2a2a2a" stroke-width="1.3"/>
<polyline points="450.11,345.3 457.11,352.5 450.11,359.7" fill="none" stroke="#2a2a2a" stroke-width="1.3" stroke-linejoin="miter"/>
<polyline points="457.11,345.3 464.11,352.5 457.11,359.7" fill="none" stroke="#2a2a2a" stroke-width="1.3" stroke-linejoin="miter"/>
<line x1="464.11" y1="352.5" x2="485.11" y2="352.5" stroke="#2a2a2a" stroke-width="1.3"/>
<polyline points="374.25,377.5 381.45,370.5 415.18,370.5" fill="none" stroke="#2a2a2a" stroke-width="1.3" stroke-linejoin="miter"/>
<text x="420.48" y="374.1" font-size="11" fill="#444444" textLength="7.11" lengthAdjust="spacingAndGlyphs">50</text>
<line x1="432.48" y1="370.5" x2="457.2" y2="370.5" stroke="#2a2a2a" stroke-width="1.3"/>
<polyline points="450.2,363.3 457.2,370.5 450.2,377.7" fill="none" stroke="#2a2a2a" stroke-width="1.3" stroke-linejoin="miter"/>
<polyline points="457.2,363.3 464.2,370.5 457.2,377.7" fill="none" stroke="#2a2a2a" stroke-width="1.3" stroke-linejoin="miter"/>
<line x1="464.2" y1="370.5" x2="485.2" y2="370.5" stroke="#2a2a2a" stroke-width="1.3"/>
<polyline points="374.33,395 381.33,388 409.5,388" fill="none" stroke="#2a2a2a" stroke-width="1.3" stroke-linejoin="miter"/>
<text x="410.5" y="391.6" font-size="11" fill="#444444" textLength="17.7" lengthAdjust="spacingAndGlyphs">1022</text>
<text x="430.6" y="385.22" font-size="8" fill="#2e2e2e" textLength="4.6" lengthAdjust="spacingAndGlyphs">2)</text>
<line x1="435.5" y1="388" x2="450.6" y2="388" stroke="#2a2a2a" stroke-width="1.3"/>
<polyline points="457.6,380.8 450.6,388 457.6,395.2" fill="none" stroke="#2a2a2a" stroke-width="1.3" stroke-linejoin="miter"/>
<polyline points="463.9,380.8 456.9,388 463.9,395.2" fill="none" stroke="#2a2a2a" stroke-width="1.3" stroke-linejoin="miter"/>
<line x1="456.9" y1="388" x2="485.5" y2="388" stroke="#2a2a2a" stroke-width="1.3"/>
<polyline points="374.4,412.8 381.4,405.8 409.59,405.8" fill="none" stroke="#2a2a2a" stroke-width="1.3" stroke-linejoin="miter"/>
<text x="410.59" y="409.4" font-size="11" fill="#444444" textLength="17.7" lengthAdjust="spacingAndGlyphs">1023</text>
<text x="430.69" y="403.02" font-size="8" fill="#2e2e2e" textLength="4.6" lengthAdjust="spacingAndGlyphs">2)</text>
<line x1="435.59" y1="405.8" x2="450.69" y2="405.8" stroke="#2a2a2a" stroke-width="1.3"/>
<polyline points="457.69,398.6 450.69,405.8 457.69,413" fill="none" stroke="#2a2a2a" stroke-width="1.3" stroke-linejoin="miter"/>
<polyline points="463.99,398.6 456.99,405.8 463.99,413" fill="none" stroke="#2a2a2a" stroke-width="1.3" stroke-linejoin="miter"/>
<line x1="456.99" y1="405.8" x2="485.59" y2="405.8" stroke="#2a2a2a" stroke-width="1.3"/>
<polygon points="483.65,60.4 632.75,60.4 632.82,74.4 483.72,74.4" fill="none" stroke="#505050" stroke-width="1.4" stroke-linejoin="miter"/>
<polygon points="483.74,78.1 632.84,78.1 633,109.8 483.9,109.8" fill="none" stroke="#505050" stroke-width="1.4" stroke-linejoin="miter"/>
<polygon points="483.92,113.9 633.02,113.9 633.09,127.2 483.99,127.2" fill="none" stroke="#505050" stroke-width="1.4" stroke-linejoin="miter"/>
<polygon points="484.01,131.8 633.11,131.8 633.18,145.7 484.08,145.7" fill="none" stroke="#505050" stroke-width="1.4" stroke-linejoin="miter"/>
<polygon points="484.1,150 633.2,150 633.36,181.2 484.26,181.2" fill="none" stroke="#505050" stroke-width="1.4" stroke-linejoin="miter"/>
<polygon points="484.27,184.8 633.37,184.8 633.71,252.6 484.61,252.6" fill="none" stroke="#505050" stroke-width="1.4" stroke-linejoin="miter"/>
<polygon points="484.63,256.4 633.73,256.4 633.89,288.6 484.79,288.6" fill="none" stroke="#505050" stroke-width="1.4" stroke-linejoin="miter"/>
<polygon points="484.81,291.7 633.91,291.7 634.07,324.1 484.97,324.1" fill="none" stroke="#505050" stroke-width="1.4" stroke-linejoin="miter"/>
<polygon points="484.99,327.7 634.09,327.7 634.34,377.2 485.24,377.2" fill="none" stroke="#505050" stroke-width="1.4" stroke-linejoin="miter"/>
<polygon points="485.26,381.1 634.36,381.1 634.42,394.7 485.32,394.7" fill="none" stroke="#505050" stroke-width="1.4" stroke-linejoin="miter"/>
<polygon points="485.34,398.7 634.44,398.7 634.51,413 485.41,413" fill="none" stroke="#505050" stroke-width="1.4" stroke-linejoin="miter"/>
<text x="490.6" y="70.8" font-size="11" fill="#444444" textLength="115.62" lengthAdjust="spacingAndGlyphs">SFP–модуль FH–SP851TCDL03</text>
<text x="487.58" y="88.8" font-size="11" fill="#444444" textLength="13.4" lengthAdjust="spacingAndGlyphs">X13</text>
<text x="505.08" y="88.8" font-size="11" fill="#444444" textLength="108.99" lengthAdjust="spacingAndGlyphs">Вычислитель визуализации</text>
<text x="487.67" y="106.5" font-size="11" fill="#444444" textLength="10.09" lengthAdjust="spacingAndGlyphs">X6</text>
<text x="487.76" y="124.3" font-size="11" fill="#444444" textLength="10.09" lengthAdjust="spacingAndGlyphs">X6</text>
<text x="505.26" y="124.3" font-size="11" fill="#444444" textLength="108.99" lengthAdjust="spacingAndGlyphs">Вычислитель визуализации</text>
<text x="487.84" y="141.8" font-size="11" fill="#444444" textLength="10.09" lengthAdjust="spacingAndGlyphs">X6</text>
<text x="505.34" y="141.8" font-size="11" fill="#444444" textLength="108.99" lengthAdjust="spacingAndGlyphs">Вычислитель визуализации</text>
<text x="487.93" y="159.6" font-size="11" fill="#444444" textLength="10.09" lengthAdjust="spacingAndGlyphs">X6</text>
<text x="505.43" y="159.6" font-size="11" fill="#444444" textLength="108.99" lengthAdjust="spacingAndGlyphs">Вычислитель визуализации</text>
<text x="488.02" y="177.4" font-size="11" fill="#444444" textLength="10.09" lengthAdjust="spacingAndGlyphs">X4</text>
<text x="488.11" y="195.2" font-size="11" fill="#444444" textLength="10.09" lengthAdjust="spacingAndGlyphs">X2</text>
<text x="505.61" y="195.2" font-size="11" fill="#444444" textLength="108.99" lengthAdjust="spacingAndGlyphs">Вычислитель визуализации</text>
<text x="488.2" y="212.8" font-size="11" fill="#444444" textLength="10.09" lengthAdjust="spacingAndGlyphs">X4</text>
<text x="488.29" y="230.5" font-size="11" fill="#444444" textLength="10.09" lengthAdjust="spacingAndGlyphs">X6</text>
<text x="488.38" y="248.2" font-size="11" fill="#444444" textLength="10.09" lengthAdjust="spacingAndGlyphs">X7</text>
<text x="488.46" y="266" font-size="11" fill="#444444" textLength="10.09" lengthAdjust="spacingAndGlyphs">X2</text>
<text x="505.96" y="266" font-size="11" fill="#444444" textLength="108.99" lengthAdjust="spacingAndGlyphs">Вычислитель визуализации</text>
<text x="488.55" y="283.7" font-size="11" fill="#444444" textLength="10.09" lengthAdjust="spacingAndGlyphs">X4</text>
<text x="488.64" y="301.5" font-size="11" fill="#444444" textLength="10.09" lengthAdjust="spacingAndGlyphs">X2</text>
<text x="506.14" y="301.5" font-size="11" fill="#444444" textLength="108.99" lengthAdjust="spacingAndGlyphs">Вычислитель визуализации</text>
<text x="488.73" y="319.2" font-size="11" fill="#444444" textLength="10.09" lengthAdjust="spacingAndGlyphs">X4</text>
<text x="488.6" y="337.7" font-size="11" fill="#444444" textLength="13" lengthAdjust="spacingAndGlyphs">X17</text>
<text x="504.6" y="337.7" font-size="11" fill="#444444" textLength="116.61" lengthAdjust="spacingAndGlyphs">Вычислитель моделирования</text>
<text x="488.6" y="355.7" font-size="11" fill="#444444" textLength="15.19" lengthAdjust="spacingAndGlyphs">Зел.</text>
<text x="488.6" y="373.4" font-size="11" fill="#444444" textLength="15.2" lengthAdjust="spacingAndGlyphs">Роз.</text>
<text x="503.4" y="391.4" font-size="11" fill="#444444" textLength="54.54" lengthAdjust="spacingAndGlyphs">Блок розеток</text>
<text x="503.4" y="409.2" font-size="11" fill="#444444" textLength="54.54" lengthAdjust="spacingAndGlyphs">Блок розеток</text>
<text x="636.8" y="69.9" font-size="11" fill="#444444" textLength="12.3" lengthAdjust="spacingAndGlyphs">A11</text>
<text x="650.5" y="63.22" font-size="8" fill="#2e2e2e" textLength="3.8" lengthAdjust="spacingAndGlyphs">1)</text>
<text x="636.86" y="88.1" font-size="11" fill="#444444" textLength="9.49" lengthAdjust="spacingAndGlyphs">A1</text>
<text x="647.76" y="81.42" font-size="8" fill="#2e2e2e" textLength="3.8" lengthAdjust="spacingAndGlyphs">1)</text>
<text x="636.99" y="124.2" font-size="11" fill="#444444" textLength="9.89" lengthAdjust="spacingAndGlyphs">A2</text>
<text x="648.29" y="117.52" font-size="8" fill="#2e2e2e" textLength="3.8" lengthAdjust="spacingAndGlyphs">1)</text>
<text x="637.05" y="141.7" font-size="11" fill="#444444" textLength="9.89" lengthAdjust="spacingAndGlyphs">A3</text>
<text x="648.35" y="135.02" font-size="8" fill="#2e2e2e" textLength="3.8" lengthAdjust="spacingAndGlyphs">1)</text>
<text x="637.11" y="159.5" font-size="11" fill="#444444" textLength="9.89" lengthAdjust="spacingAndGlyphs">A4</text>
<text x="648.41" y="152.82" font-size="8" fill="#2e2e2e" textLength="3.8" lengthAdjust="spacingAndGlyphs">1)</text>
<text x="637.24" y="195.1" font-size="11" fill="#444444" textLength="9.89" lengthAdjust="spacingAndGlyphs">A5</text>
<text x="648.54" y="188.42" font-size="8" fill="#2e2e2e" textLength="3.8" lengthAdjust="spacingAndGlyphs">1)</text>
<text x="637.49" y="265.9" font-size="11" fill="#444444" textLength="9.89" lengthAdjust="spacingAndGlyphs">A6</text>
<text x="648.79" y="259.22" font-size="8" fill="#2e2e2e" textLength="3.8" lengthAdjust="spacingAndGlyphs">1)</text>
<text x="637.61" y="301.4" font-size="11" fill="#444444" textLength="9.89" lengthAdjust="spacingAndGlyphs">A7</text>
<text x="648.91" y="294.72" font-size="8" fill="#2e2e2e" textLength="3.8" lengthAdjust="spacingAndGlyphs">1)</text>
<text x="637.74" y="337.6" font-size="11" fill="#444444" textLength="9.89" lengthAdjust="spacingAndGlyphs">A9</text>
<text x="649.04" y="330.92" font-size="8" fill="#2e2e2e" textLength="3.8" lengthAdjust="spacingAndGlyphs">1)</text>
<text x="637.9" y="390.6" font-size="11" fill="#444444" textLength="14.5" lengthAdjust="spacingAndGlyphs">AX1</text>
<text x="652.9" y="383.72" font-size="8" fill="#2e2e2e" textLength="5.3" lengthAdjust="spacingAndGlyphs">2)</text>
<text x="637.9" y="408.2" font-size="11" fill="#444444" textLength="15.6" lengthAdjust="spacingAndGlyphs">AX2</text>
<text x="656.2" y="402.52" font-size="8" fill="#2e2e2e" textLength="5" lengthAdjust="spacingAndGlyphs">2)</text>
<polygon points="3,654.3 667.8,654.9 667.4,915.5 4,915.5" fill="none" stroke="#222222" stroke-width="1.5" stroke-linejoin="miter"/>
<line x1="67.3" y1="654.6" x2="68" y2="915.5" stroke="#222222" stroke-width="1.6"/>
<line x1="501.6" y1="654.6" x2="501.9" y2="915.5" stroke="#222222" stroke-width="1.6"/>
<line x1="529.9" y1="654.6" x2="529.9" y2="915.5" stroke="#222222" stroke-width="1.6"/>
<line x1="3.3" y1="690.4" x2="667.6" y2="690.8" stroke="#222222" stroke-width="1.4"/>
<line x1="3.3" y1="715.3" x2="667.6" y2="715.7" stroke="#222222" stroke-width="1.4"/>
<line x1="3.3" y1="740.2" x2="667.6" y2="740.6" stroke="#222222" stroke-width="1.4"/>
<line x1="3.3" y1="764.9" x2="667.6" y2="765.3" stroke="#222222" stroke-width="1.4"/>
<line x1="3.3" y1="789.9" x2="667.6" y2="790.3" stroke="#222222" stroke-width="1.4"/>
<line x1="3.3" y1="815.2" x2="667.6" y2="815.6" stroke="#222222" stroke-width="1.4"/>
<line x1="3.3" y1="840.2" x2="667.6" y2="840.6" stroke="#222222" stroke-width="1.4"/>
<line x1="3.3" y1="865.4" x2="667.6" y2="865.8" stroke="#222222" stroke-width="1.4"/>
<line x1="3.3" y1="890.4" x2="667.6" y2="890.8" stroke="#222222" stroke-width="1.4"/>
<text x="24.9" y="670.2" font-size="14" fill="#444444" textLength="19.2" lengthAdjust="spacingAndGlyphs">Поз.</text>
<text x="4.7" y="684.7" font-size="16" fill="#444444" textLength="60.58" lengthAdjust="spacingAndGlyphs">обозначение</text>
<text x="235.7" y="679.1" font-size="19.5" fill="#444444" textLength="96.63" lengthAdjust="spacingAndGlyphs">Наименование</text>
<text x="505.1" y="677.9" font-size="17" fill="#444444" textLength="20.98" lengthAdjust="spacingAndGlyphs">Кол.</text>
<text x="562.6" y="677.9" font-size="18.5" fill="#444444" textLength="68.38" lengthAdjust="spacingAndGlyphs">Примечание</text>
<text x="29.4" y="711.8" font-size="16.5" fill="#4a4a4a" textLength="12.38" lengthAdjust="spacingAndGlyphs">A1</text>
<text x="74.5" y="711.5" font-size="16.5" fill="#4a4a4a" textLength="363.48" lengthAdjust="spacingAndGlyphs">Система имитации визуальной обстановки ВГИП.467249.004</text>
<text x="513" y="711.8" font-size="16.5" fill="#4a4a4a" textLength="4.11" lengthAdjust="spacingAndGlyphs">1</text>
<text x="29.4" y="736.8" font-size="16.5" fill="#4a4a4a" textLength="12.88" lengthAdjust="spacingAndGlyphs">A2</text>
<text x="74.5" y="736.5" font-size="16.5" fill="#4a4a4a" textLength="235.39" lengthAdjust="spacingAndGlyphs">Каркас с АРМ летчика ВГИП.161468.001</text>
<text x="513" y="736.8" font-size="16.5" fill="#4a4a4a" textLength="4.11" lengthAdjust="spacingAndGlyphs">1</text>
<text x="29.4" y="761.8" font-size="16.5" fill="#4a4a4a" textLength="12.88" lengthAdjust="spacingAndGlyphs">A3</text>
<text x="74.5" y="761.5" font-size="16.5" fill="#4a4a4a" textLength="260.62" lengthAdjust="spacingAndGlyphs">Вычислительный комплекс ВГИП.466514.202</text>
<text x="513" y="761.8" font-size="16.5" fill="#4a4a4a" textLength="4.11" lengthAdjust="spacingAndGlyphs">1</text>
<text x="21.8" y="811.2" font-size="16.5" fill="#4a4a4a" textLength="28.22" lengthAdjust="spacingAndGlyphs">11–18</text>
<text x="74.5" y="810.9" font-size="16.5" fill="#4a4a4a" textLength="221.13" lengthAdjust="spacingAndGlyphs">Кабель Kramer C–DPM/DPM–25, 7,6 м</text>
<text x="513" y="811.2" font-size="16.5" fill="#4a4a4a" textLength="6.31" lengthAdjust="spacingAndGlyphs">8</text>
<text x="19.9" y="836.5" font-size="16.5" fill="#4a4a4a" textLength="32.31" lengthAdjust="spacingAndGlyphs">19–23</text>
<text x="74.5" y="836.2" font-size="16.5" fill="#4a4a4a" textLength="228.52" lengthAdjust="spacingAndGlyphs">Кабель Kramer CA–UAM/UAF–25, 7,6 м</text>
<text x="513" y="836.5" font-size="16.5" fill="#4a4a4a" textLength="6.31" lengthAdjust="spacingAndGlyphs">5</text>
<text x="30.1" y="861.5" font-size="16.5" fill="#4a4a4a" textLength="12.53" lengthAdjust="spacingAndGlyphs">35</text>
<text x="74.5" y="861.2" font-size="16.5" fill="#4a4a4a" textLength="231.69" lengthAdjust="spacingAndGlyphs">Кабель К–ВП–К5зА ВГИП.685663.054–01</text>
<text x="513" y="861.5" font-size="16.5" fill="#4a4a4a" textLength="4.11" lengthAdjust="spacingAndGlyphs">1</text>
<text x="29.4" y="886.7" font-size="16.5" fill="#4a4a4a" textLength="13.53" lengthAdjust="spacingAndGlyphs">50</text>
<text x="74.5" y="886.4" font-size="16.5" fill="#4a4a4a" textLength="316.9" lengthAdjust="spacingAndGlyphs">Аудиокабель гарнитуры (внешний–1) ВГИП.685692.055</text>
<text x="513" y="886.7" font-size="16.5" fill="#4a4a4a" textLength="4.11" lengthAdjust="spacingAndGlyphs">1</text>
<text x="18.4" y="911.7" font-size="16.5" fill="#4a4a4a" textLength="36.01" lengthAdjust="spacingAndGlyphs">42–46</text>
<text x="74.5" y="911.4" font-size="16.5" fill="#4a4a4a" textLength="199.89" lengthAdjust="spacingAndGlyphs">Кабель Kramer C–USB/AB–6 1.8 м</text>
<text x="513" y="911.7" font-size="16.5" fill="#4a4a4a" textLength="6.31" lengthAdjust="spacingAndGlyphs">5</text>
<text x="538" y="859.1" font-size="13.5" fill="#444444" textLength="25.22" lengthAdjust="spacingAndGlyphs">TT п.1</text>
</svg>
</body></html>
